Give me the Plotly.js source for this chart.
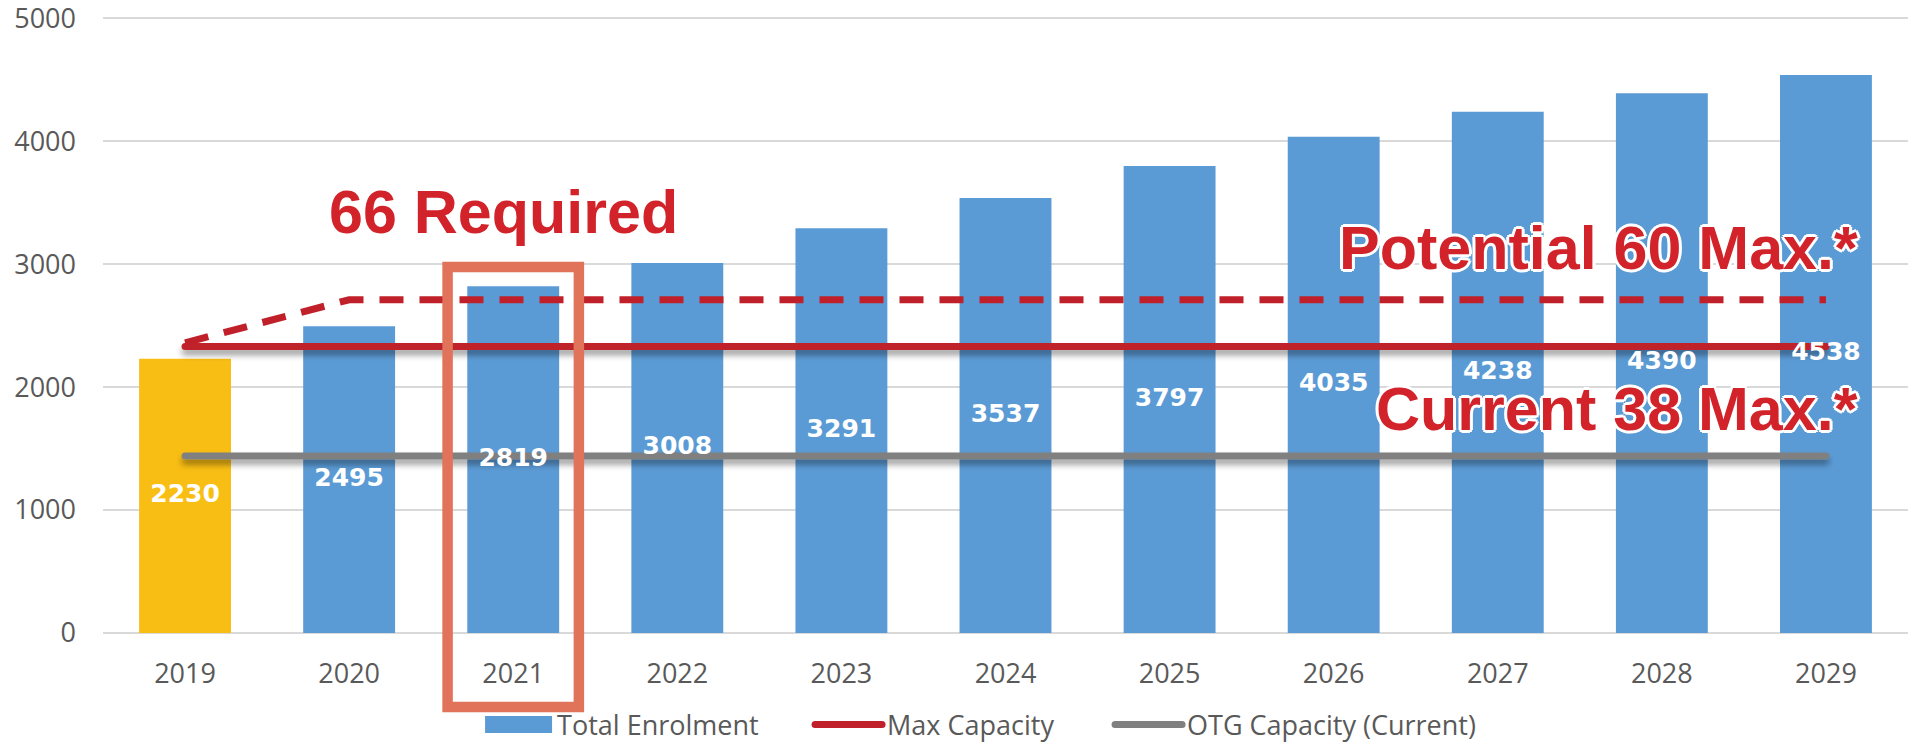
<!DOCTYPE html>
<html>
<head>
<meta charset="utf-8">
<script src="https://cdn.plot.ly/plotly-3.0.1.min.js"></script>
<style>
  html, body { margin: 0; padding: 0; background: #fff; }
  #chart { width: 1913px; height: 742px; }
</style>
</head>
<body>
<div id="chart"></div>
<script>
// ---- data ----
const years = ['2019', '2020', '2021', '2022', '2023', '2024', '2025', '2026', '2027', '2028', '2029'];
const enrolment = [2230, 2495, 2819, 3008, 3291, 3537, 3797, 4035, 4238, 4390, 4538];
const maxCapacity = [2330, 2330, 2330, 2330, 2330, 2330, 2330, 2330, 2330, 2330, 2330];
const otgCapacity = [1440, 1440, 1440, 1440, 1440, 1440, 1440, 1440, 1440, 1440, 1440];
const potentialCapacity = [2360, 2710, 2710, 2710, 2710, 2710, 2710, 2710, 2710, 2710, 2710];
const yTickValues = [0, 1000, 2000, 3000, 4000, 5000];
const seriesNames = ['Total Enrolment', 'Max Capacity', 'OTG Capacity (Current)'];
const noteRequired = '66 Required';
const notePotential = 'Potential 60 Max.*';
const noteCurrent = 'Current 38 Max.*';
const highlightYear = '2021';

// ---- styles ----
const BLUE = '#5B9BD5';
const YELLOW = '#F9BE14';
const RED_LINE = '#C0202A';
const RED_TEXT = '#D2232A';
const GRAY_LINE = '#808080';
const AXIS_TEXT = '#595959';
const OUTLINE = '3px 0 0 #fff, -3px 0 0 #fff, 0 3px 0 #fff, 0 -3px 0 #fff, 2px 2px 0 #fff, -2px 2px 0 #fff, 2px -2px 0 #fff, -2px -2px 0 #fff';

const hiIdx = years.indexOf(highlightYear);

const traces = [
  {
    type: 'bar', x: years.slice(0, 1), y: enrolment.slice(0, 1),
    marker: {color: YELLOW}, showlegend: false, hoverinfo: 'x+y', name: seriesNames[0]
  },
  {
    type: 'bar', x: years.slice(1), y: enrolment.slice(1),
    marker: {color: BLUE}, name: seriesNames[0], legendwidth: 248
  },
  {
    type: 'scatter', mode: 'lines', x: years, y: maxCapacity, name: seriesNames[1],
    line: {color: RED_LINE, width: 7}, legendwidth: 218
  },
  {
    type: 'scatter', mode: 'lines', x: years, y: otgCapacity, name: seriesNames[2],
    line: {color: GRAY_LINE, width: 7}, legendwidth: 290
  },
  {
    type: 'scatter', mode: 'lines', x: years, y: potentialCapacity, name: 'Potential Capacity',
    line: {color: RED_LINE, width: 7, dash: '24px,16px'}, showlegend: false
  },
  {
    type: 'scatter', mode: 'text', x: years, y: enrolment.map(v => v / 2),
    text: enrolment.map(String), textposition: 'middle center',
    textfont: {family: 'DejaVu Sans', weight: 'bold', size: 25, color: '#FFFFFF'},
    showlegend: false, hoverinfo: 'skip'
  }
];

const layout = {
  width: 1913, height: 742,
  margin: {l: 103, r: 5, t: 12, b: 109, autoexpand: false},
  paper_bgcolor: '#FFFFFF', plot_bgcolor: '#FFFFFF',
  barmode: 'overlay', bargap: 0.44,
  showlegend: true,
  xaxis: {
    type: 'category', categoryorder: 'array', categoryarray: years,
    range: [-0.5, years.length - 0.5],
    showgrid: false, zeroline: false, showline: false, ticks: '',
    tickfont: {family: 'Open Sans', size: 27, color: AXIS_TEXT},
    ticklabelstandoff: 22, ticklabeloverflow: 'allow'
  },
  yaxis: {
    range: [0, 5050], tickvals: yTickValues, ticktext: yTickValues.map(String),
    showgrid: true, gridcolor: '#D9D9D9', gridwidth: 1.5,
    zeroline: true, zerolinecolor: '#D9D9D9', zerolinewidth: 1.5,
    showline: false, ticks: '',
    tickfont: {family: 'Open Sans', size: 27, color: AXIS_TEXT},
    ticklabelstandoff: 26, ticklabeloverflow: 'allow'
  },
  legend: {
    orientation: 'h', x: 0.2089, xanchor: 'left', y: -0.148, yanchor: 'middle',
    font: {family: 'Open Sans', size: 27, color: AXIS_TEXT},
    itemwidth: 67, bgcolor: 'rgba(0,0,0,0)', traceorder: 'normal'
  },
  shapes: [
    {
      type: 'rect', xref: 'x', yref: 'paper', layer: 'above',
      x0: hiIdx - 0.4, x1: hiIdx + 0.4, y0: -0.1192, y1: 0.5894,
      line: {color: '#E0735A', width: 10.5}, fillcolor: 'rgba(0,0,0,0)'
    }
  ],
  annotations: [
    {
      text: noteRequired, xref: 'x', yref: 'y', x: 1.94, y: 3420,
      xanchor: 'center', yanchor: 'middle', showarrow: false,
      font: {family: 'Liberation Sans', weight: 'bold', size: 61, color: RED_TEXT}
    },
    {
      text: notePotential, xref: 'x', yref: 'y', x: 10.21, y: 3130,
      xanchor: 'right', yanchor: 'middle', showarrow: false,
      font: {family: 'Liberation Sans', weight: 'bold', size: 61, color: RED_TEXT, shadow: OUTLINE}
    },
    {
      text: noteCurrent, xref: 'x', yref: 'y', x: 10.21, y: 1821,
      xanchor: 'right', yanchor: 'middle', showarrow: false,
      font: {family: 'Liberation Sans', weight: 'bold', size: 61, color: RED_TEXT, shadow: OUTLINE}
    }
  ]
};

Plotly.newPlot('chart', traces, layout, {displayModeBar: false, staticPlot: true}).then(function (gd) {
  // drop shadow + round caps on the solid capacity lines
  const svg = gd.querySelector('svg.main-svg');
  const NS = 'http://www.w3.org/2000/svg';
  let defs = svg.querySelector('defs');
  if (!defs) { defs = document.createElementNS(NS, 'defs'); svg.insertBefore(defs, svg.firstChild); }
  const f = document.createElementNS(NS, 'filter');
  f.setAttribute('id', 'lineShadow');
  f.setAttribute('filterUnits', 'userSpaceOnUse');
  f.setAttribute('x', '-50'); f.setAttribute('y', '-50');
  f.setAttribute('width', '2100'); f.setAttribute('height', '900');
  const ds = document.createElementNS(NS, 'feDropShadow');
  ds.setAttribute('dx', '0'); ds.setAttribute('dy', '5');
  ds.setAttribute('stdDeviation', '3');
  ds.setAttribute('flood-color', '#000'); ds.setAttribute('flood-opacity', '0.4');
  f.appendChild(ds); defs.appendChild(f);
  gd.querySelectorAll('.scatterlayer path.js-line').forEach(function (p) {
    const dash = p.style.strokeDasharray;
    if (!dash || dash === 'none' || dash === '') {
      p.setAttribute('filter', 'url(#lineShadow)');
      p.style.strokeLinecap = 'round';
    }
  });
  // wider bar swatch in legend, like the original
  gd.querySelectorAll('.legend .legendpoints path').forEach(function (p) {
    const d = p.getAttribute('d') || '';
    if (d.indexOf('M6,6H-6V-6H6Z') === 0) {
      p.setAttribute('d', 'M33.5,8.5H-33.5V-8.5H33.5Z');
    }
  });
  gd.querySelectorAll('.legend .legendlines path').forEach(function (p) {
    p.style.strokeLinecap = 'round';
  });
});
</script>
</body>
</html>
